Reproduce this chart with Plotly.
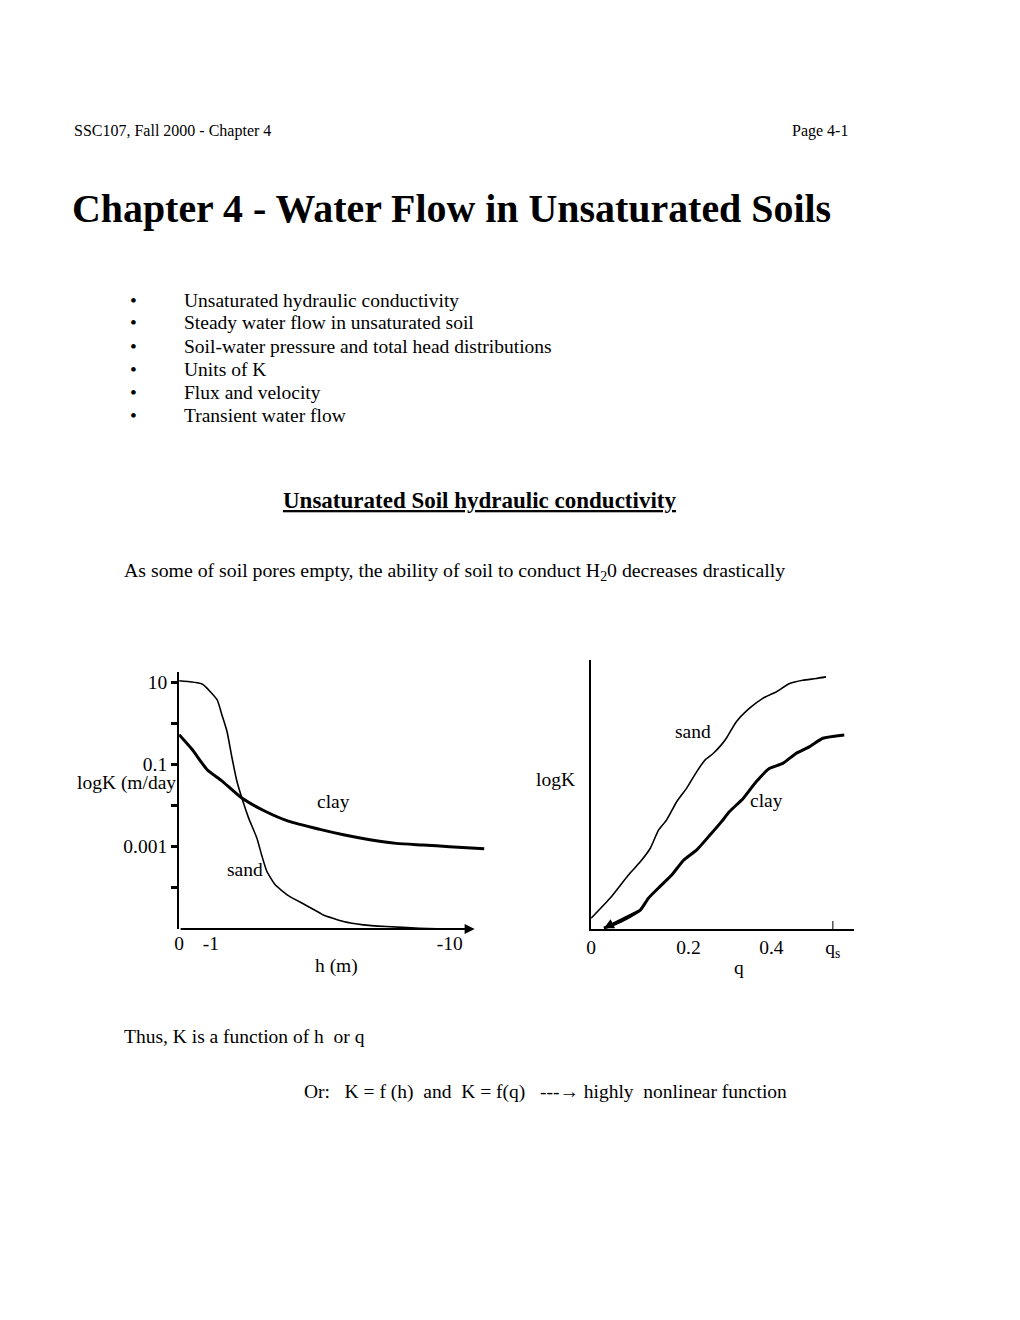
import plotly.graph_objects as go

W, H = 1020, 1320
SERIF = "Liberation Serif, Times New Roman, serif"

# ---------------- Left chart: log K versus h (sketch) ----------------
h_tick_pos = [0, 1, 8.5]
h_tick_text = ["0", "-1", "-10"]
logk_tick_pos = [1, 0, -1, -2, -3, -4]
logk_tick_text = ["10", "", "0.1", "", "0.001", ""]

sand_h = [0, 0.72, 1.19, 1.34, 1.5, 1.66, 1.81, 1.97, 2.18, 2.44, 2.59, 2.75, 3.01,
          3.43, 3.95, 4.42, 4.53, 5.16, 5.78, 6.5, 7.55, 8.38]
sand_logk = [1.03, 0.95, 0.57, 0.21, -0.19, -0.84, -1.40, -1.82, -2.30, -2.79, -3.20, -3.59, -3.92,
             -4.19, -4.41, -4.61, -4.66, -4.82, -4.90, -4.94, -4.98, -5.0]

clay_h = [0, 0.41, 0.88, 1.34, 1.97, 2.70, 3.43, 4.42, 5.16, 5.99, 6.82, 7.66, 8.49, 9.58]
clay_logk = [-0.28, -0.64, -1.13, -1.40, -1.82, -2.14, -2.38, -2.58, -2.71, -2.83, -2.92, -2.96,
             -3.0, -3.05]

H_AXIS_END = 9.28
LOGK_MIN, LOGK_MAX = -5.0, 1.243

# ---------------- Right chart: log K versus theta (sketch) ----------------
q_tick_pos = [0, 0.214, 0.396, 0.531]
q_tick_text = ["0", "0.2", "0.4", "q<sub>s</sub>"]
QS = 0.531

sand_q = [0, 0.042, 0.082, 0.108, 0.130, 0.148, 0.166, 0.188, 0.210, 0.232, 0.250, 0.268,
          0.286, 0.297, 0.319, 0.348, 0.377, 0.407, 0.436, 0.465, 0.494, 0.516]
sand_k2 = [0.26, 0.75, 1.31, 1.63, 1.96, 2.40, 2.65, 3.09, 3.42, 3.82, 4.10, 4.26,
           4.47, 4.63, 5.03, 5.36, 5.60, 5.76, 5.96, 6.04, 6.08, 6.12]

clay_q = [0.028, 0.064, 0.108, 0.126, 0.151, 0.177, 0.203, 0.232, 0.261, 0.286, 0.304, 0.334,
          0.363, 0.392, 0.421, 0.450, 0.479, 0.509, 0.556]
clay_k2 = [0.02, 0.18, 0.46, 0.75, 1.03, 1.31, 1.67, 1.92, 2.28, 2.60, 2.85, 3.17,
           3.58, 3.90, 4.02, 4.26, 4.42, 4.63, 4.71]


def px(x):
    return x / W


def py(y):
    return 1 - y / H


fig = go.Figure()

fig.add_trace(go.Scatter(x=sand_h, y=sand_logk, mode="lines", xaxis="x", yaxis="y",
                         line=dict(color="black", width=1.6, shape="spline", smoothing=0.5),
                         hoverinfo="skip"))
fig.add_trace(go.Scatter(x=clay_h, y=clay_logk, mode="lines", xaxis="x", yaxis="y",
                         line=dict(color="black", width=3, shape="spline", smoothing=0.6),
                         hoverinfo="skip"))
fig.add_trace(go.Scatter(x=sand_q, y=sand_k2, mode="lines", xaxis="x2", yaxis="y2",
                         line=dict(color="black", width=1.6, shape="spline", smoothing=0.5),
                         hoverinfo="skip"))
fig.add_trace(go.Scatter(x=clay_q, y=clay_k2, mode="lines", xaxis="x2", yaxis="y2",
                         line=dict(color="black", width=3, shape="spline", smoothing=0.5),
                         hoverinfo="skip"))

tickfont = dict(family=SERIF, size=19.5, color="black")

fig.update_layout(
    width=W, height=H,
    margin=dict(l=0, r=0, t=0, b=0),
    paper_bgcolor="white", plot_bgcolor="white",
    showlegend=False,
    xaxis=dict(domain=[px(175), px(175 + 9.7 * 32)], range=[0, 9.7], anchor="y",
               showline=False, showgrid=False, zeroline=False, ticks="",
               tickmode="array", tickvals=h_tick_pos, ticktext=h_tick_text,
               tickfont=tickfont, fixedrange=True),
    yaxis=dict(domain=[py(929), py(672)], range=[LOGK_MIN, LOGK_MAX], anchor="x",
               showline=True, linecolor="black", linewidth=2, showgrid=False, zeroline=False,
               ticks="outside", ticklen=6, tickwidth=3, tickcolor="black",
               tickmode="array", tickvals=logk_tick_pos, ticktext=logk_tick_text,
               tickfont=tickfont, fixedrange=True),
    xaxis2=dict(domain=[px(589), px(853)], range=[0, 0.577], anchor="y2",
                showline=True, linecolor="black", linewidth=1.6, showgrid=False, zeroline=False,
                ticks="", tickmode="array", tickvals=q_tick_pos, ticktext=q_tick_text,
                tickfont=tickfont, fixedrange=True),
    yaxis2=dict(domain=[py(929), py(660)], range=[0, 6.53], anchor="x2",
                showline=True, linecolor="black", linewidth=2, showgrid=False, zeroline=False,
                ticks="", showticklabels=False, fixedrange=True),
)

NB = "\u00a0"
anns = []
LEFT_SHIFT = 6  # annotation boxes add a little left padding


def txt(text, x, y, size=19.5, xanchor="left"):
    if xanchor == "left":
        x = x - LEFT_SHIFT
    anns.append(dict(text=text, x=px(x), y=py(y), xref="paper", yref="paper",
                     xanchor=xanchor, yanchor="middle", showarrow=False,
                     font=dict(family=SERIF, size=size, color="black")))


# page text
txt("SSC107, Fall 2000 - Chapter 4", 73, 131, size=16)
txt("Page 4-1", 849, 131, size=16, xanchor="right")
txt("<b>Chapter 4 - Water Flow in Unsaturated Soils</b>", 71, 208, size=39.9)

bullets = ["Unsaturated hydraulic conductivity",
           "Steady water flow in unsaturated soil",
           "Soil-water pressure and total head distributions",
           "Units of K",
           "Flux and velocity",
           "Transient water flow"]
for i, b in enumerate(bullets):
    yy = 300 + 23 * i
    txt("•", 129, yy, xanchor="center")
    txt(b, 184, yy)

txt("<u><b>Unsaturated Soil hydraulic conductivity</b></u>", 477, 500, size=23, xanchor="center")
txt("As some of soil pores empty, the ability of soil to conduct H<sub>2</sub>0 decreases drastically",
    124, 571, size=19.8)
txt("Thus, K is a function of h" + NB + NB + "or q", 124, 1036)
txt("Or:" + NB * 3 + "K = f (h)" + NB * 2 + "and" + NB * 2 + "K = f(q)" + NB * 3 + "---\u2192 highly"
    + NB * 2 + "nonlinear function", 304, 1092)

# chart labels
txt("logK (m/day", 174, 783, xanchor="right")
txt("clay", 330, 801, xanchor="center")
txt("sand", 241, 869, xanchor="center")
txt("h (m)", 333, 966, xanchor="center")
txt("logK", 553, 779, xanchor="center")
txt("sand", 691, 731, xanchor="center")
txt("clay", 765, 800, xanchor="center")
txt("q", 738, 968, xanchor="center")

# left x-axis drawn as an arrow
anns.append(dict(x=H_AXIS_END, y=LOGK_MIN, ax=0, ay=LOGK_MIN, xref="x", yref="y",
                 axref="x", ayref="y", showarrow=True, arrowhead=2, arrowsize=1,
                 arrowwidth=2, arrowcolor="black", text=""))
# small arrowhead at start of right clay curve
anns.append(dict(x=clay_q[0], y=clay_k2[0], ax=clay_q[2], ay=clay_k2[2], xref="x2", yref="y2",
                 axref="x2", ayref="y2", showarrow=True, arrowhead=2, arrowsize=0.8,
                 arrowwidth=2.5, arrowcolor="black", text=""))

fig.update_layout(annotations=anns)

# tick mark at theta_s
fig.add_shape(type="line", xref="x2", yref="paper", x0=QS, x1=QS, y0=py(929), y1=py(921),
              line=dict(color="black", width=1))

fig.write_html("out.html")
